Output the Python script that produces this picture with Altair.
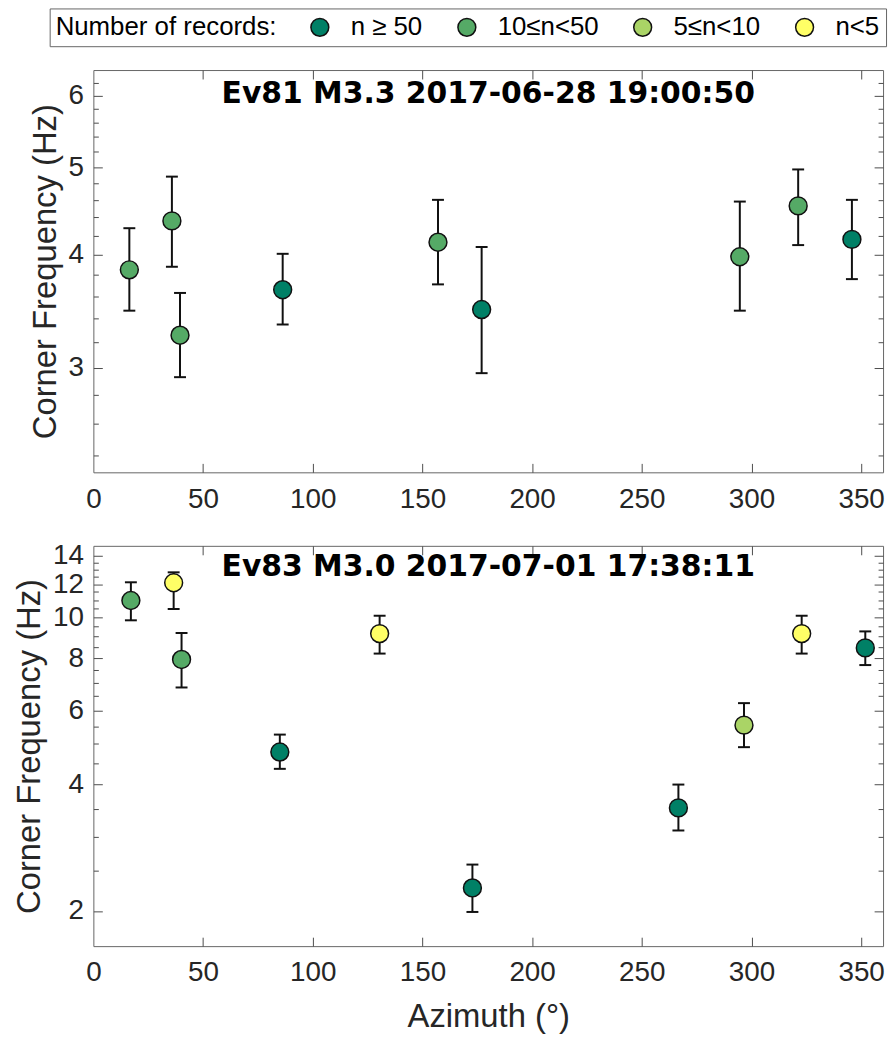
import altair as alt
import pandas as pd

# ---------------- data ----------------
categories = ["n \u2265 50", "10\u2264n<50", "5\u2264n<10", "n<5"]
cat_colors = ["#008066", "#55aa66", "#aad466", "#ffff66"]

ev81_title = "Ev81 M3.3 2017-06-28 19:00:50"
ev81_az = [16.4, 35.8, 39.5, 86.3, 157.1, 177.0, 294.7, 321.3, 345.8]
ev81_fc = [3.85, 4.36, 3.26, 3.66, 4.13, 3.48, 3.98, 4.53, 4.16]
ev81_lo = [3.47, 3.88, 2.93, 3.35, 3.71, 2.96, 3.47, 4.10, 3.76]
ev81_hi = [4.28, 4.88, 3.63, 4.01, 4.60, 4.08, 4.58, 4.97, 4.60]
ev81_cat = [1, 1, 1, 0, 1, 0, 1, 1, 0]

ev83_title = "Ev83 M3.0 2017-07-01 17:38:11"
ev83_az = [17.1, 36.6, 40.2, 85.0, 130.5, 172.8, 266.7, 296.6, 322.9, 351.9]
ev83_fc = [10.97, 12.09, 7.94, 4.78, 9.15, 2.27, 3.52, 5.54, 9.15, 8.46]
ev83_lo = [9.84, 10.47, 6.81, 4.36, 8.20, 1.99, 3.11, 4.91, 8.20, 7.70]
ev83_hi = [12.12, 12.80, 9.18, 5.26, 10.09, 2.58, 4.00, 6.25, 10.09, 9.26]
ev83_cat = [1, 3, 1, 0, 3, 0, 0, 2, 3, 0]

x_major = [0, 50, 100, 150, 200, 250, 300, 350]
x_inner = [50, 100, 150, 200, 250, 300, 350]
ev81_ydom = [2.3, 6.4]
ev81_ymaj = [3, 4, 5, 6]
ev81_ymin = [2.4, 2.6, 2.8, 3.2, 3.4, 3.6, 3.8, 4.2, 4.4, 4.6, 4.8,
             5.2, 5.4, 5.6, 5.8, 6.2]
ev83_ydom = [1.65, 14.8]
ev83_ymaj = [2, 4, 6, 8, 10, 12, 14]
ev83_ymin = [2.5, 3, 3.5, 4.5, 5, 5.5, 6.5, 7, 7.5, 8.5, 9, 9.5,
             10.5, 11, 11.5, 12.5, 13, 13.5]

FONT = "Liberation Sans, Arial, Helvetica, sans-serif"
TXT = "#262626"
TICK = "#4d4d4d"
W = 795

legend = alt.Legend(
    title="Number of records:", orient="none", legendX=-44, legendY=-62,
    direction="horizontal", columns=4, titleOrient="left",
    titleFont=FONT, titleFontSize=26, titleFontWeight="normal", titleColor="black",
    titlePadding=30, titleLimit=600, labelFont=FONT, labelFontSize=26,
    labelColor="black", labelOffset=18, columnPadding=31, symbolType="circle",
    symbolSize=324, symbolStrokeColor="#111111", symbolStrokeWidth=1.5,
    symbolOpacity=1, strokeColor="#666666", fillColor="white", padding=6,
    labelLimit=400,
)


def tick_axis(orient, values, size):
    return alt.Axis(orient=orient, values=values, labels=False, domain=False,
                    grid=False, ticks=True, tickSize=size, offset=-size,
                    tickColor=TICK, tickWidth=1, title=None)


def panel(az, fc, lo, hi, cat, title, ydom, ymaj, ymin, xtitle, h):
    df = pd.DataFrame({"az": az, "fc": fc, "lo": lo, "hi": hi,
                       "cls": [categories[c] for c in cat]})
    base = alt.Chart(df)
    xs = alt.Scale(domain=[0, 360], nice=False, zero=False)
    ys = alt.Scale(type="log", domain=ydom, nice=False)

    xlab = dict(orient="bottom", values=x_major, ticks=False, domain=False,
                grid=False, labelFont=FONT, labelFontSize=28, labelColor=TXT,
                labelPadding=13, labelFlush=False, labelOverlap=False)
    if xtitle:
        xlab.update(title=xtitle, titleFont=FONT, titleFontSize=33,
                    titleFontWeight="normal", titleColor=TXT, titlePadding=14)
    else:
        xlab.update(title=None)
    ylab = alt.Axis(orient="left", values=ymaj, ticks=False, domain=False,
                    grid=False, labelFont=FONT, labelFontSize=28,
                    labelColor=TXT, labelPadding=10, labelOverlap=False,
                    labelFlush=False, format="~g",
                    title="Corner Frequency (Hz)", titleFont=FONT,
                    titleFontSize=33, titleFontWeight="normal",
                    titleColor=TXT, titlePadding=6)

    err = base.mark_rule(color="#111111", strokeWidth=2).encode(
        x=alt.X("az:Q", scale=xs, axis=alt.Axis(**xlab)),
        y=alt.Y("lo:Q", scale=ys, axis=ylab),
        y2="hi:Q",
    )
    cap_lo = base.mark_tick(orient="horizontal", size=12, thickness=2,
                            color="#111111", opacity=1).encode(
        x=alt.X("az:Q", scale=xs, axis=tick_axis("bottom", x_inner, 9)),
        y=alt.Y("lo:Q", scale=ys, axis=tick_axis("left", ymaj, 9)),
    )
    cap_hi = base.mark_tick(orient="horizontal", size=12, thickness=2,
                            color="#111111", opacity=1).encode(
        x=alt.X("az:Q", scale=xs, axis=tick_axis("top", x_inner, 9)),
        y=alt.Y("hi:Q", scale=ys, axis=tick_axis("right", ymaj, 9)),
    )
    ghost = base.mark_point(opacity=0).encode(
        x=alt.X("az:Q", scale=xs, axis=None),
        y=alt.Y("fc:Q", scale=ys, axis=tick_axis("right", ymin, 5)),
    )
    pts = base.mark_circle(size=324, stroke="#111111", strokeWidth=1.5,
                           opacity=1).encode(
        x=alt.X("az:Q", scale=xs, axis=None),
        y=alt.Y("fc:Q", scale=ys, axis=tick_axis("left", ymin, 5)),
        fill=alt.Fill("cls:N", scale=alt.Scale(domain=categories,
                                               range=cat_colors),
                      legend=legend),
    )
    return alt.layer(err, cap_lo, cap_hi, ghost, pts).resolve_axis(
        x="independent", y="independent"
    ).properties(
        width=W, height=h,
        title=alt.TitleParams(text=title, font="DejaVu Sans", fontSize=30,
                              fontWeight="bold", color="black",
                              anchor="middle", orient="top", offset=-64,
                              baseline="alphabetic"),
    )


top = panel(ev81_az, ev81_fc, ev81_lo, ev81_hi, ev81_cat, ev81_title,
            ev81_ydom, ev81_ymaj, ev81_ymin, None, 405)
bottom = panel(ev83_az, ev83_fc, ev83_lo, ev83_hi, ev83_cat, ev83_title,
               ev83_ydom, ev83_ymaj, ev83_ymin, "Azimuth (\u00b0)", 403)

chart = alt.vconcat(top, bottom, spacing=74, bounds="flush").properties(
    padding={"left": 13, "top": 4, "right": 5, "bottom": 5},
    background="white",
).configure_view(stroke="#666666", strokeWidth=1)

chart.save("out.html", embed_options={"renderer": "svg", "actions": False})
